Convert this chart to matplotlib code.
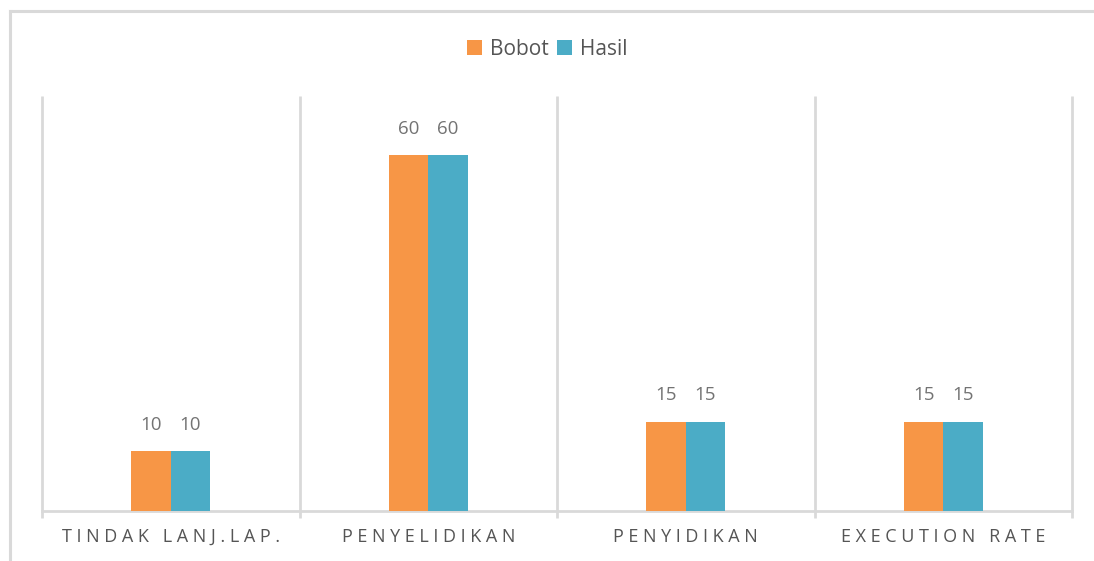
import numpy as np
import matplotlib
matplotlib.use("Agg")
import matplotlib.pyplot as plt
from matplotlib.lines import Line2D

# data
categories = ["TINDAK LANJ.LAP.", "PENYELIDIKAN", "PENYIDIKAN", "EXECUTION RATE"]
bobot = [10, 60, 15, 15]
hasil = [10, 60, 15, 15]

plt.rcParams['font.family'] = ['Open Sans', 'DejaVu Sans']

def spaced(s):
    # mimic the wide letter spacing of the category labels
    words = s.split(" ")
    return "   ".join(" ".join(w) for w in words)

W, H = 1094, 561
fig = plt.figure(figsize=(W / 100, H / 100), dpi=100)
ax = fig.add_axes([42 / W, 1 - 510.5 / H, (1072 - 42) / W, (510.5 - 96.3) / H])

x = np.arange(len(categories))
bw = 0.153
b1 = ax.bar(x - bw / 2, bobot, bw, color="#F79646", label="Bobot", zorder=3)
b2 = ax.bar(x + bw / 2, hasil, bw, color="#4BACC6", label="Hasil", zorder=3)

for bars in (b1, b2):
    ax.bar_label(bars, padding=12.5, fontsize=13.5, color="#737373")

ax.set_xlim(-0.5, len(categories) - 0.5)
ax.set_ylim(0, 70)
ax.set_yticks([])

ax.set_xticks(x)
ax.set_xticklabels([spaced(c) for c in categories], fontsize=13, color="#555555")
ax.tick_params(axis="x", which="major", length=0, pad=12.5)
ax.set_xticks(np.arange(-0.5, len(categories)), minor=True)
ax.tick_params(axis="x", which="minor", length=5, width=2, color="#d9d9d9")

# category separators (vertical gridlines)
ax.vlines(np.arange(-0.5, len(categories)), 0, 70, color="#d9d9d9", linewidth=2,
          zorder=0, clip_on=False)

for side in ("top", "right", "left"):
    ax.spines[side].set_visible(False)
ax.spines["bottom"].set_color("#d9d9d9")
ax.spines["bottom"].set_linewidth(2)

ax.legend(loc="center", bbox_to_anchor=(0.5, 1 - 49 / H), bbox_transform=fig.transFigure,
          ncol=2, frameon=False, fontsize=15, labelcolor="#555555",
          handlelength=0.75, handleheight=0.75, handletextpad=0.35, columnspacing=0.4)

# outer chart border (left and top edges visible)
fig.add_artist(Line2D([9.5 / W, 9.5 / W], [0, 1 - 10.5 / H], transform=fig.transFigure,
                      color="#d9d9d9", linewidth=2.2))
fig.add_artist(Line2D([9.5 / W, 1], [1 - 10.5 / H, 1 - 10.5 / H], transform=fig.transFigure,
                      color="#d9d9d9", linewidth=2.2))

fig.savefig("out.png", dpi=100)
